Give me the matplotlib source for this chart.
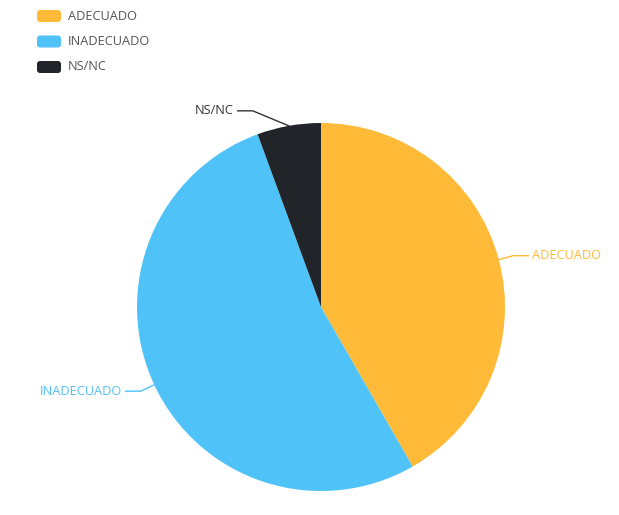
import numpy as np
import matplotlib
matplotlib.use("Agg")
import matplotlib.pyplot as plt
from matplotlib.patches import FancyBboxPatch

# Chart data
categories = ["ADECUADO", "INADECUADO", "NS/NC"]
shares = [41.7, 52.7, 5.6]
colors = ["#FFBB38", "#4FC3F7", "#212529"]

W, H = 619, 515
plt.rcParams["font.family"] = ["Open Sans", "DejaVu Sans"]

fig = plt.figure(figsize=(W / 100, H / 100), dpi=100)
ax = fig.add_axes([0, 0, 1, 1])

cx, cy, r = 321, H - 307, 184
wedges, _ = ax.pie(shares, colors=colors, startangle=90, counterclock=False,
                   radius=r, center=(cx, cy), frame=True,
                   wedgeprops=dict(linewidth=0))
ax.set_xlim(0, W)
ax.set_ylim(0, H)
ax.set_aspect("equal")
ax.axis("off")

# leader lines + labels (small slice label gets pushed up/left, like echarts does)
elbow_shift = {"NS/NC": (-36, 15)}
for w, name, col in zip(wedges, categories, colors):
    mid = np.deg2rad((w.theta1 + w.theta2) / 2)
    x0, y0 = cx + r * np.cos(mid), cy + r * np.sin(mid)
    if name in elbow_shift:
        x1, y1 = x0 + elbow_shift[name][0], y0 + elbow_shift[name][1]
    else:
        x1, y1 = cx + (r + 15) * np.cos(mid), cy + (r + 15) * np.sin(mid)
    side = 1 if np.cos(mid) >= 0 else -1
    x2 = x1 + side * 15
    line_col = "#333333" if name == "NS/NC" else col
    ax.plot([x0, x1, x2], [y0, y1, y1], color=line_col, lw=1)
    ax.text(x2 + side * 4, y1, name, color=line_col,
            fontsize=9.2, ha="left" if side > 0 else "right", va="center")

# legend
for i, (name, col) in enumerate(zip(categories, colors)):
    ly = H - (16 + i * 25.5)
    ax.add_patch(FancyBboxPatch((37, ly - 6), 24, 12,
                                boxstyle="round,pad=0,rounding_size=3",
                                fc=col, ec="none"))
    ax.text(68, ly, name, fontsize=9.2, color="#555555", va="center", ha="left")

fig.savefig("out.png", dpi=100)
